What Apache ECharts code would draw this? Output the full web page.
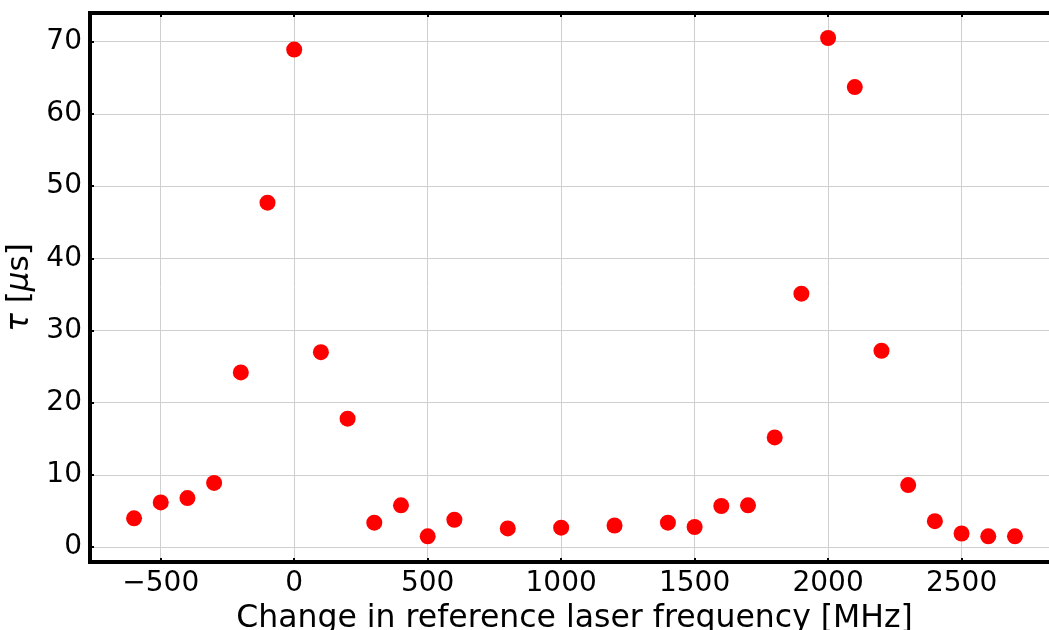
<!DOCTYPE html>
<html>
<head>
<meta charset="utf-8">
<script src="https://cdn.jsdelivr.net/npm/echarts@6/dist/echarts.min.js"></script>
<style>html,body{margin:0;padding:0;background:#fff;}#c{width:1049px;height:630px;}</style>
</head>
<body>
<div id="c"></div>
<script>
const freqMHz = [-600,-500,-400,-300,-200,-100,0,100,200,300,400,500,600,800,1000,1200,1400,1500,1600,1700,1800,1900,2000,2100,2200,2300,2400,2500,2600,2700];
const tauUs = [4.0,6.2,6.8,8.9,24.2,47.7,68.9,27.0,17.8,3.4,5.8,1.5,3.8,2.6,2.7,3.0,3.4,2.8,5.7,5.8,15.2,35.1,70.5,63.7,27.2,8.6,3.6,1.9,1.5,1.5];
const xTicks = [-500,0,500,1000,1500,2000,2500];
const yTicks = [0,10,20,30,40,50,60,70];

const chart = echarts.init(document.getElementById('c'), null, {renderer:'canvas'});
const font = 'DejaVu Sans';
chart.setOption({
  animation:false,
  backgroundColor:'#fff',
  grid:{left:90, top:13, width:969, height:549, show:true, borderColor:'#000', borderWidth:4,
    backgroundColor:'transparent', containLabel:false, outerBoundsMode:'none'},
  xAxis:[{
    type:'value', min:-765, max:2865,
    name:'Change in reference laser frequency [MHz]', nameLocation:'middle', nameGap:38,
    nameTextStyle:{fontFamily:font, fontSize:31.5, color:'#000'},
    axisLine:{show:false, onZero:false},
    axisTick:{show:true, inside:true, length:4, lineStyle:{color:'#000', width:2}, customValues:xTicks},
    axisLabel:{customValues:xTicks, fontFamily:font, fontSize:28, color:'#000', margin:8,
      formatter:v=> v<0 ? '\u2212'+Math.abs(v) : String(v)},
    splitLine:{show:true, lineStyle:{color:'#cfcfcf', width:1}}
  },{
    type:'value', position:'top', min:-765, max:2865,
    axisLine:{show:false, onZero:false},
    axisTick:{show:true, inside:true, length:4, lineStyle:{color:'#000', width:2}, customValues:xTicks},
    axisLabel:{show:false},
    splitLine:{show:false}
  }],
  yAxis:{
    type:'value', min:-2.05, max:73.96,
    name:'{i|τ} [{i|μ}s]', nameLocation:'middle', nameGap:47,
    nameTextStyle:{fontFamily:font, fontSize:31, color:'#000',
      rich:{i:{fontFamily:font, fontSize:31, fontStyle:'italic', color:'#000'}}},
    axisLine:{show:false, onZero:false},
    axisTick:{show:true, inside:true, length:4, lineStyle:{color:'#000', width:2}, customValues:yTicks},
    axisLabel:{customValues:yTicks, fontFamily:font, fontSize:28, color:'#000', margin:8},
    splitLine:{show:true, lineStyle:{color:'#cfcfcf', width:1}}
  },
  series:[{
    type:'scatter',
    xAxisIndex:0,
    data:freqMHz.map((f,i)=>[f,tauUs[i]]),
    symbol:'circle', symbolSize:16,
    itemStyle:{color:'#ff0000', opacity:1},
    clip:false
  }]
});
</script>
</body>
</html>
